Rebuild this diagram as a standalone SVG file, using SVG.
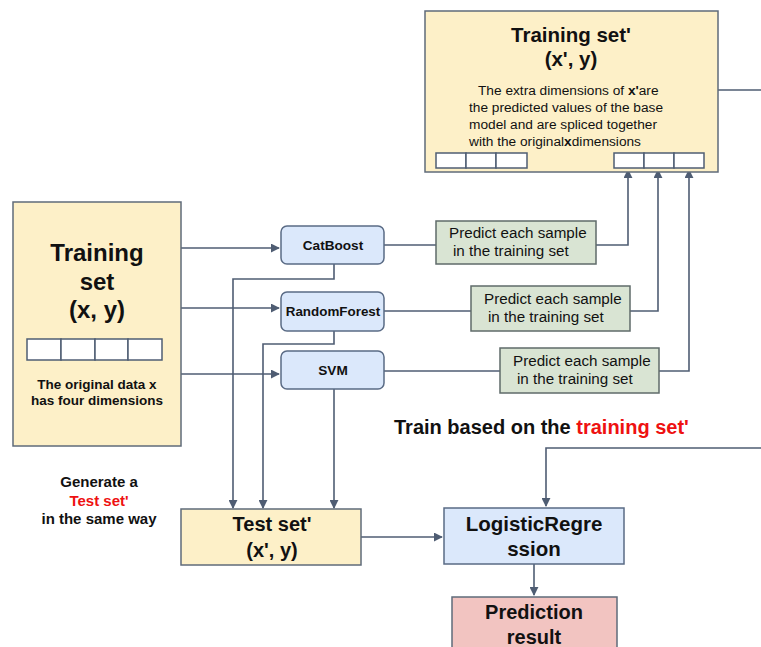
<svg xmlns="http://www.w3.org/2000/svg" width="761" height="647" viewBox="0 0 761 647">
<defs>
<marker id="ah" viewBox="0 0 10 10" refX="9" refY="5" markerWidth="9" markerHeight="9" markerUnits="userSpaceOnUse" orient="auto">
<path d="M0,0 L10,5 L0,10 z" fill="#4f5d73"/>
</marker>
</defs>
<style>
text{font-family:"Liberation Sans",Arial,sans-serif;fill:#111}
.b{font-weight:bold}
.yel{fill:#fdf0c8;stroke:#5f6b7a;stroke-width:1.5}
.blu{fill:#dbe8fb;stroke:#5a6b85;stroke-width:1.5}
.grn{fill:#d9e4d3;stroke:#5f6b6a;stroke-width:1.5}
.pnk{fill:#f2c4c1;stroke:#5f6b7a;stroke-width:1.5}
.cell{fill:#fff;stroke:#4f5d73;stroke-width:1.5}
.ln{fill:none;stroke:#4f5d73;stroke-width:1.6}
.red{fill:#ee1111}
</style>
<rect width="761" height="647" fill="#fff"/>

<g id="connectors">
<path class="ln" d="M181,248 H279" marker-end="url(#ah)"/>
<path class="ln" d="M181,308 H279" marker-end="url(#ah)"/>
<path class="ln" d="M181,374 H279" marker-end="url(#ah)"/>
<path class="ln" d="M384,245 H436"/>
<path class="ln" d="M384,311 H471"/>
<path class="ln" d="M384,371 H500"/>
<path class="ln" d="M596,245 H628 V170" marker-end="url(#ah)"/>
<path class="ln" d="M630,311 H658 V170" marker-end="url(#ah)"/>
<path class="ln" d="M659,371 H689 V170" marker-end="url(#ah)"/>
<path class="ln" d="M334,264 V279 H233 V508" marker-end="url(#ah)"/>
<path class="ln" d="M334,331 V344 H263 V508" marker-end="url(#ah)"/>
<path class="ln" d="M334,389 V508" marker-end="url(#ah)"/>
<path class="ln" d="M361,537 H442" marker-end="url(#ah)"/>
<path class="ln" d="M718,90 H763 V448 H546 V506" marker-end="url(#ah)"/>
<path class="ln" d="M534,564 V595" marker-end="url(#ah)"/>
</g>

<g id="training-set-prime">
<rect class="yel" x="425" y="11" width="293" height="161"/>
<text class="b" x="571" y="42" font-size="20.5" text-anchor="middle">Training set'</text>
<text class="b" x="571" y="66" font-size="20.5" text-anchor="middle">(x', y)</text>
<text x="478" y="95" font-size="13.7">The extra dimensions of <tspan class="b">x'</tspan>are</text>
<text x="469" y="112" font-size="13.7">the predicted values of the base</text>
<text x="469" y="129" font-size="13.7">model and are spliced together</text>
<text x="469" y="146" font-size="13.7">with the original<tspan class="b">x</tspan>dimensions</text>
<rect class="cell" x="436" y="153" width="30" height="15"/>
<rect class="cell" x="466" y="153" width="30" height="15"/>
<rect class="cell" x="496" y="153" width="31" height="15"/>
<rect class="cell" x="614" y="153" width="30" height="15"/>
<rect class="cell" x="644" y="153" width="30" height="15"/>
<rect class="cell" x="674" y="153" width="30" height="15"/>
</g>

<g id="training-set">
<rect class="yel" x="13" y="202" width="168" height="244"/>
<text class="b" x="97" y="261" font-size="24" text-anchor="middle">Training</text>
<text class="b" x="97" y="290" font-size="24" text-anchor="middle">set</text>
<text class="b" x="97" y="318" font-size="24" text-anchor="middle">(x, y)</text>
<rect class="cell" x="27" y="339" width="34" height="21"/>
<rect class="cell" x="61" y="339" width="34" height="21"/>
<rect class="cell" x="95" y="339" width="33" height="21"/>
<rect class="cell" x="128" y="339" width="34" height="21"/>
<text class="b" x="97" y="389" font-size="13.5" text-anchor="middle">The original data x</text>
<text class="b" x="97" y="405" font-size="13.5" text-anchor="middle">has four dimensions</text>
</g>

<g id="catboost">
<rect class="blu" x="281" y="226" width="103" height="38" rx="6"/>
<text class="b" x="333" y="250" font-size="13.6" text-anchor="middle">CatBoost</text>
</g>
<g id="randomforest">
<rect class="blu" x="281" y="292" width="103" height="39" rx="6"/>
<text class="b" x="333" y="316" font-size="13.4" text-anchor="middle">RandomForest</text>
</g>
<g id="svm">
<rect class="blu" x="281" y="351" width="103" height="38" rx="6"/>
<text class="b" x="333" y="375" font-size="13.6" text-anchor="middle">SVM</text>
</g>

<g id="predict-1">
<rect class="grn" x="436" y="221" width="160" height="43"/>
<text x="449" y="238" font-size="15.2">Predict each sample</text>
<text x="453" y="256" font-size="15.2">in the training set</text>
</g>
<g id="predict-2">
<rect class="grn" x="471" y="286" width="159" height="45"/>
<text x="484" y="304" font-size="15.2">Predict each sample</text>
<text x="488" y="322" font-size="15.2">in the training set</text>
</g>
<g id="predict-3">
<rect class="grn" x="500" y="348" width="159" height="45"/>
<text x="513" y="366" font-size="15.2">Predict each sample</text>
<text x="517" y="384" font-size="15.2">in the training set</text>
</g>

<g id="train-label">
<text class="b" x="394" y="434" font-size="20">Train based on the <tspan class="red">training set'</tspan></text>
</g>

<g id="generate-label">
<text class="b" x="99" y="487" font-size="15" text-anchor="middle">Generate a</text>
<text class="b red" x="99" y="506" font-size="15" text-anchor="middle">Test set'</text>
<text class="b" x="99" y="524" font-size="15" text-anchor="middle">in the same way</text>
</g>

<g id="test-set-prime">
<rect class="yel" x="181" y="509" width="180" height="56"/>
<text class="b" x="272" y="531" font-size="20" text-anchor="middle">Test set'</text>
<text class="b" x="272" y="557" font-size="20" text-anchor="middle">(x', y)</text>
</g>

<g id="logisticregression">
<rect class="blu" x="444" y="508" width="180" height="56"/>
<text class="b" x="534" y="531" font-size="20.5" text-anchor="middle">LogisticRegre</text>
<text class="b" x="534" y="556" font-size="20.5" text-anchor="middle">ssion</text>
</g>

<g id="prediction-result">
<rect class="pnk" x="452" y="597" width="165" height="70"/>
<text class="b" x="534" y="619" font-size="20" text-anchor="middle">Prediction</text>
<text class="b" x="534" y="644" font-size="20" text-anchor="middle">result</text>
</g>
</svg>
